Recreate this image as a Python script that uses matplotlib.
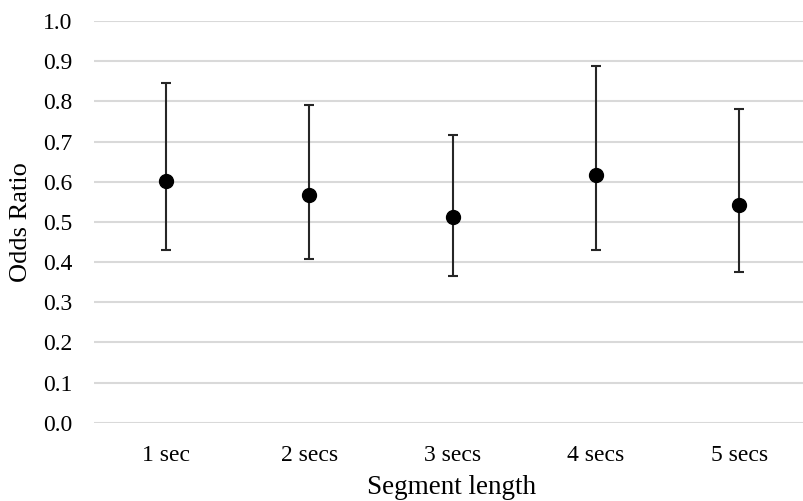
import matplotlib
matplotlib.use("Agg")
import matplotlib.pyplot as plt
import numpy as np

categories = ["1 sec", "2 secs", "3 secs", "4 secs", "5 secs"]
odds_ratio = [0.602, 0.567, 0.511, 0.617, 0.542]
ci_upper = [0.845, 0.790, 0.715, 0.889, 0.781]
ci_lower = [0.429, 0.407, 0.365, 0.429, 0.376]
yticks = [0.0, 0.1, 0.2, 0.3, 0.4, 0.5, 0.6, 0.7, 0.8, 0.9, 1.0]

plt.rcParams['font.family'] = ['Liberation Serif', 'DejaVu Serif']

fig = plt.figure(figsize=(8.04, 5.01), dpi=100)
W, H = 804, 501
ax = fig.add_axes([94.3 / W, 78.3 / H, 716.7 / W, 401.7 / H])

x = np.arange(len(categories))
vals = np.array(odds_ratio)
yerr = np.array([vals - np.array(ci_lower), np.array(ci_upper) - vals])

ax.errorbar(x, vals, yerr=yerr, fmt='o', color='black', ecolor='#262626',
            elinewidth=1.5, capsize=3.4, capthick=1.5, markersize=10, zorder=3)

ax.set_xlim(-0.5, len(categories) - 0.5)
ax.set_ylim(0, 1.0)
ax.set_yticks(yticks)
ax.set_yticklabels([f"{v:.1f}" for v in yticks])
ax.set_xticks(x)
ax.set_xticklabels(categories)
ax.yaxis.grid(True, color='#d9d9d9', linewidth=1.5)
ax.set_axisbelow(True)
for s in ax.spines.values():
    s.set_visible(False)
ax.tick_params(axis='both', length=0, labelsize=17, colors='#000000')
ax.tick_params(axis='y', pad=16)
ax.tick_params(axis='x', pad=16)

ax.set_ylabel("Odds Ratio", fontsize=19, labelpad=8)
fig.text(452 / W, 1 - 487 / H, "Segment length", fontsize=19.5, ha='center', va='center')

fig.savefig("out.png", dpi=100)
